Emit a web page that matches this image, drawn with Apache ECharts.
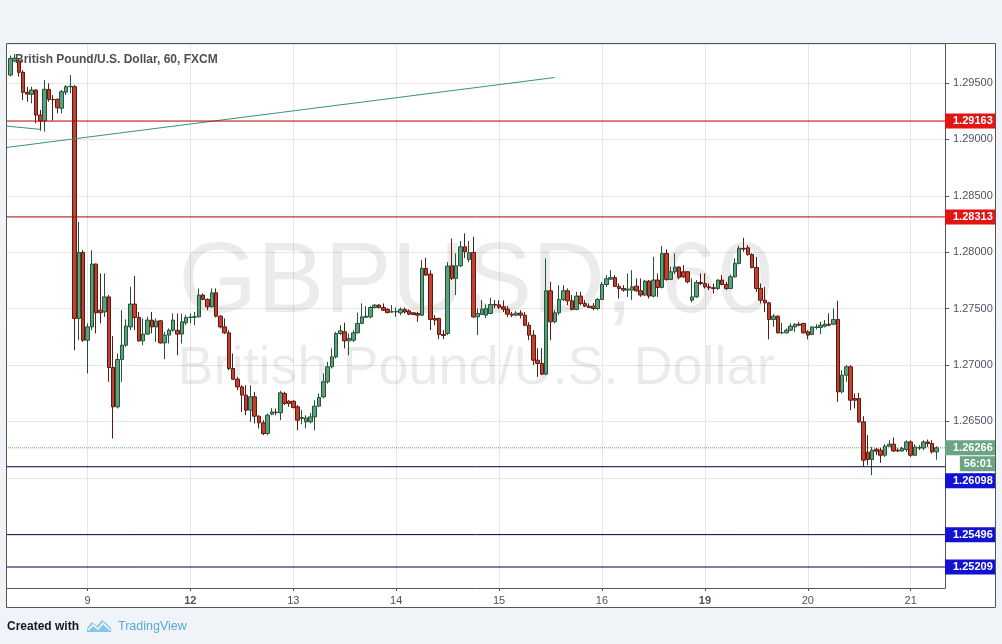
<!DOCTYPE html>
<html><head><meta charset="utf-8">
<script src="https://cdn.jsdelivr.net/npm/echarts@6/dist/echarts.min.js"></script>
<style>html,body{margin:0;padding:0;background:#f0f3f7}#c{width:1002px;height:644px}</style>
</head><body><div id="c"></div>
<script>
// Hourly GBPUSD candles, [open, close, low, high]
const d08 = [ // Thu 8, from 06:00
[1.29571,1.29719,1.29558,1.29744],[1.29695,1.29719,1.29686,1.29757],[1.29698,1.29595,1.29556,1.29722],
[1.29595,1.29418,1.29349,1.29615],[1.29418,1.29402,1.29334,1.29467],[1.29400,1.29438,1.29320,1.29467],
[1.29438,1.29216,1.29143,1.29447],[1.29216,1.29163,1.29077,1.29261],[1.29163,1.29444,1.29068,1.29527],
[1.29444,1.29355,1.29334,1.29497],[1.29355,1.29351,1.29166,1.29394],[1.29355,1.29281,1.29231,1.29364],
[1.29276,1.29423,1.29231,1.29438],[1.29418,1.29467,1.29394,1.29482],[1.29467,1.29471,1.29409,1.29571],
[1.29467,1.27413,1.27132,1.29482],[1.27413,1.27998,1.27220,1.28270],[1.27998,1.27220,1.27205,1.28019]];
const d09 = [ // Fri 9, 00:00-21:00
[1.27220,1.27338,1.26925,1.27369],[1.27338,1.27895,1.27309,1.28019],[1.27895,1.27463,1.27280,1.27901],
[1.27486,1.27463,1.27369,1.27812],[1.27471,1.27604,1.27427,1.27812],[1.27604,1.26978,1.26851,1.27620],
[1.26978,1.26629,1.26348,1.27256],[1.26629,1.27049,1.26615,1.27102],[1.27049,1.27176,1.26851,1.27486],
[1.27176,1.27345,1.27161,1.27404],[1.27338,1.27540,1.27309,1.27693],[1.27540,1.27422,1.27309,1.27788],
[1.27422,1.27214,1.27205,1.27471],[1.27214,1.27274,1.27176,1.27413],[1.27274,1.27398,1.27265,1.27427],
[1.27398,1.27338,1.27280,1.27471],[1.27338,1.27389,1.27205,1.27413],[1.27392,1.27196,1.27191,1.27398],
[1.27196,1.27265,1.27052,1.27294],[1.27265,1.27309,1.27191,1.27324],[1.27309,1.27398,1.27294,1.27457],
[1.27308,1.27274,1.27087,1.27457]];
const d11 = [ // Sun 11, 22:00-23:00
[1.27274,1.27383,1.27191,1.27457],[1.27374,1.27422,1.27353,1.27442]];
const d12 = [
[1.27422,1.27424,1.27369,1.27457],[1.27424,1.27427,1.27353,1.27471],[1.27427,1.27620,1.27422,1.27679],
[1.27620,1.27581,1.27575,1.27635],[1.27581,1.27516,1.27486,1.27590],[1.27516,1.27640,1.27510,1.27679],
[1.27640,1.27433,1.27422,1.27679],[1.27433,1.27338,1.27324,1.27442],[1.27338,1.27285,1.27274,1.27413],
[1.27285,1.26969,1.26954,1.27309],[1.26969,1.26874,1.26866,1.27102],[1.26874,1.26806,1.26777,1.26895],
[1.26806,1.26733,1.26584,1.26821],[1.26733,1.26600,1.26555,1.26821],[1.26600,1.26718,1.26496,1.26821],
[1.26718,1.26546,1.26482,1.26762],[1.26546,1.26487,1.26437,1.26555],[1.26487,1.26393,1.26378,1.26511],
[1.26393,1.26555,1.26378,1.26570],[1.26564,1.26584,1.26555,1.26617],[1.26582,1.26579,1.26555,1.26614],
[1.26576,1.26753,1.26511,1.26771],[1.26748,1.26659,1.26644,1.26762],[1.26679,1.26659,1.26629,1.26688]];
const d13 = [
[1.26679,1.26623,1.26615,1.26688],[1.26629,1.26511,1.26422,1.26644],[1.26526,1.26535,1.26475,1.26600],
[1.26496,1.26531,1.26437,1.26555],[1.26496,1.26540,1.26482,1.26576],[1.26540,1.26635,1.26422,1.26688],
[1.26635,1.26712,1.26629,1.26748],[1.26718,1.26851,1.26703,1.26925],[1.26851,1.26984,1.26836,1.27028],
[1.26984,1.27072,1.26969,1.27147],[1.27072,1.27280,1.27058,1.27294],[1.27280,1.27303,1.27265,1.27353],
[1.27294,1.27214,1.27147,1.27374],[1.27214,1.27235,1.27087,1.27280],[1.27220,1.27285,1.27205,1.27309],
[1.27285,1.27369,1.27280,1.27463],[1.27369,1.27427,1.27362,1.27546],[1.27422,1.27433,1.27419,1.27522],
[1.27427,1.27510,1.27413,1.27522],[1.27510,1.27531,1.27501,1.27540],[1.27531,1.27510,1.27501,1.27540],
[1.27510,1.27486,1.27480,1.27546],[1.27493,1.27466,1.27457,1.27504],[1.27471,1.27472,1.27463,1.27531]];
const d14 = [
[1.27472,1.27475,1.27427,1.27510],[1.27463,1.27493,1.27442,1.27510],[1.27493,1.27471,1.27457,1.27510],
[1.27480,1.27451,1.27442,1.27493],[1.27463,1.27448,1.27442,1.27471],[1.27457,1.27442,1.27383,1.27471],
[1.27442,1.27857,1.27436,1.27930],[1.27857,1.27797,1.27791,1.27950],[1.27806,1.27404,1.27309,1.27841],
[1.27413,1.27398,1.27353,1.27442],[1.27413,1.27271,1.27229,1.27419],[1.27271,1.27261,1.27229,1.27309],
[1.27280,1.27877,1.27265,1.27912],[1.27880,1.27768,1.27753,1.28122],[1.27768,1.27880,1.27620,1.27989],
[1.27880,1.28048,1.27868,1.28099],[1.28048,1.28004,1.27948,1.28167],[1.27936,1.27998,1.27912,1.28099],
[1.27998,1.27427,1.27416,1.28137],[1.27427,1.27457,1.27265,1.27501],[1.27448,1.27495,1.27442,1.27575],
[1.27442,1.27501,1.27416,1.27537],[1.27457,1.27537,1.27451,1.27596],[1.27537,1.27531,1.27504,1.27575]];
const d15 = [
[1.27534,1.27513,1.27495,1.27575],[1.27516,1.27495,1.27469,1.27572],[1.27495,1.27451,1.27424,1.27522],
[1.27451,1.27442,1.27424,1.27471],[1.27442,1.27460,1.27433,1.27478],[1.27460,1.27442,1.27413,1.27486],
[1.27442,1.27353,1.27344,1.27469],[1.27353,1.27265,1.27220,1.27380],[1.27265,1.27043,1.26999,1.27309],
[1.27043,1.27014,1.26895,1.27149],[1.27014,1.26919,1.26910,1.27149],[1.26919,1.27658,1.26910,1.27945],
[1.27658,1.27383,1.27220,1.27737],[1.27383,1.27463,1.27369,1.27486],[1.27463,1.27581,1.27442,1.27708],
[1.27581,1.27658,1.27566,1.27708],[1.27658,1.27569,1.27531,1.27679],[1.27569,1.27493,1.27486,1.27620],
[1.27493,1.27611,1.27486,1.27649],[1.27611,1.27546,1.27531,1.27649],[1.27546,1.27522,1.27513,1.27575],
[1.27522,1.27510,1.27504,1.27546],[1.27522,1.27501,1.27486,1.27549],[1.27501,1.27581,1.27486,1.27593]];
const d16 = [ // Fri 16, 00:00-21:00
[1.27581,1.27714,1.27575,1.27737],[1.27714,1.27764,1.27693,1.27797],[1.27761,1.27775,1.27753,1.27841],
[1.27775,1.27697,1.27693,1.27797],[1.27697,1.27679,1.27590,1.27723],[1.27679,1.27664,1.27649,1.27708],
[1.27664,1.27673,1.27604,1.27812],[1.27664,1.27693,1.27575,1.27841],[1.27699,1.27658,1.27649,1.27768],
[1.27658,1.27620,1.27604,1.27768],[1.27620,1.27744,1.27611,1.27753],[1.27744,1.27611,1.27590,1.27753],
[1.27611,1.27753,1.27599,1.27959],[1.27753,1.27688,1.27604,1.27812],[1.27688,1.27989,1.27679,1.28057],
[1.27989,1.27759,1.27747,1.28025],[1.27759,1.27826,1.27753,1.27871],[1.27826,1.27868,1.27806,1.27989],
[1.27868,1.27777,1.27759,1.27877],[1.27826,1.27782,1.27771,1.27886],[1.27826,1.27738,1.27723,1.27833],
[1.27575,1.27604,1.27555,1.27768]];
const d18 = [ // Sun 18, 22:00-23:00
[1.27604,1.27732,1.27596,1.27753],[1.27732,1.27723,1.27708,1.27812]];
const d19 = [
[1.27723,1.27693,1.27679,1.27812],[1.27693,1.27685,1.27664,1.27723],[1.27685,1.27679,1.27635,1.27723],
[1.27679,1.27753,1.27664,1.27759],[1.27753,1.27714,1.27708,1.27797],[1.27714,1.27679,1.27664,1.27737],
[1.27679,1.27782,1.27673,1.27803],[1.27782,1.27901,1.27773,1.27945],[1.27901,1.28034,1.27892,1.28057],
[1.28034,1.28028,1.28004,1.28128],[1.28039,1.27981,1.27968,1.28063],[1.27981,1.27864,1.27857,1.27990],
[1.27864,1.27679,1.27649,1.27959],[1.27679,1.27575,1.27546,1.27723],[1.27575,1.27551,1.27471,1.27693],
[1.27551,1.27404,1.27227,1.27560],[1.27404,1.27433,1.27338,1.27451],[1.27433,1.27285,1.27280,1.27442],
[1.27285,1.27287,1.27274,1.27374],[1.27285,1.27309,1.27280,1.27324],[1.27309,1.27345,1.27300,1.27369],
[1.27338,1.27362,1.27294,1.27369],[1.27362,1.27353,1.27344,1.27380],[1.27369,1.27285,1.27280,1.27374]];
const d20 = [
[1.27294,1.27265,1.27227,1.27309],[1.27271,1.27338,1.27265,1.27344],[1.27333,1.27336,1.27315,1.27362],
[1.27333,1.27353,1.27274,1.27383],[1.27344,1.27362,1.27333,1.27398],[1.27362,1.27353,1.27344,1.27457],
[1.27362,1.27404,1.27353,1.27501],[1.27404,1.26762,1.26673,1.27569],[1.26762,1.26910,1.26748,1.26954],
[1.26910,1.26984,1.26851,1.26999],[1.26984,1.26688,1.26600,1.26999],[1.26703,1.26688,1.26615,1.26748],
[1.26703,1.26496,1.26487,1.26753],[1.26496,1.26156,1.26103,1.26546],[1.26227,1.26162,1.26112,1.26378],
[1.26162,1.26245,1.26023,1.26274],[1.26254,1.26236,1.26200,1.26262],[1.26245,1.26200,1.26132,1.26265],
[1.26200,1.26280,1.26185,1.26298],[1.26280,1.26298,1.26274,1.26333],[1.26298,1.26238,1.26230,1.26357],
[1.26245,1.26238,1.26227,1.26262],[1.26238,1.26260,1.26230,1.26274],[1.26251,1.26318,1.26230,1.26333]];
const d21 = [ // Wed 21, 00:00-06:00
[1.26318,1.26200,1.26185,1.26333],[1.26200,1.26274,1.26191,1.26298],[1.26265,1.26267,1.26245,1.26289],
[1.26265,1.26318,1.26245,1.26333],[1.26318,1.26304,1.26274,1.26339],[1.26304,1.26230,1.26215,1.26333],
[1.26230,1.26266,1.26160,1.26280]];

// sessions: [day, first hour, candles]
const sessions = [[8,6,d08],[9,0,d09],[11,22,d11],[12,0,d12],[13,0,d13],[14,0,d14],[15,0,d15],
                  [16,0,d16],[18,22,d18],[19,0,d19],[20,0,d20],[21,0,d21]];
const boldDays = ['12','19'];

const resistance = [1.29163, 1.28313];
const support = [1.26098, 1.25496, 1.25209];
const lastPrice = 1.26266;
const countdown = '56:01';
const trendA = [[0, 1.28928], [128, 1.29549]];
const trendB = [[0, 1.29119], [8, 1.29089]];
const yMin = 1.25023, yMax = 1.29846;

const categories = ['8 05'];
const ohlc = [['-','-','-','-']];
sessions.forEach(([day, h0, arr]) => arr.forEach((v, i) => {
  categories.push(day + ' ' + String(h0 + i).padStart(2, '0'));
  ohlc.push(v);
}));
categories.push('21 07', '21 08');
ohlc.push(['-','-','-','-'], ['-','-','-','-']);
const lastIdx = categories.length - 1;

const isMidnight = (i, v) => String(v).endsWith(' 00');
const FONT = '"Liberation Sans", Arial, sans-serif';
const UP = '#5fa07c', DOWN = '#c2402f', LAST = '#6ba583';
const RED_LINE = '#b80000', NAVY_LINE = '#000048', TEAL = '#3a9082';

const lineSeries = (data, color, type, z) => ({
  type: 'line', data: data, symbol: 'none', silent: true, z: z || 3, color: color,
  lineStyle: { color: color, width: 1, type: type || 'solid' }, emphasis: { disabled: true }
});
const level = v => [[0, v], [lastIdx, v]];

const option = {
  animation: false,
  backgroundColor: '#ffffff',
  grid: { left: 6, right: 57, top: 44, bottom: 56, containLabel: false },
  xAxis: {
    type: 'category', data: categories, boundaryGap: false,
    axisLine: { show: true, lineStyle: { color: '#555' } },
    axisTick: { show: true, interval: isMidnight, length: 3, lineStyle: { color: '#555' } },
    axisLabel: {
      interval: isMidnight, color: '#4c525e', fontSize: 11, margin: 7, fontFamily: FONT,
      formatter: v => { const d = v.split(' ')[0]; return boldDays.includes(d) ? '{b|' + d + '}' : d; },
      rich: { b: { fontWeight: 'bold', fontSize: 11, color: '#4c525e', fontFamily: FONT } }
    },
    splitLine: { show: true, interval: isMidnight, lineStyle: { color: '#e6e6e6' } }
  },
  yAxis: {
    type: 'value', position: 'right', min: yMin, max: yMax, scale: true,
    splitNumber: 10, minInterval: 0.005, maxInterval: 0.005,
    axisLine: { show: true, lineStyle: { color: '#555' } },
    axisTick: { show: true, length: 4, lineStyle: { color: '#555' } },
    axisLabel: { showMinLabel: false, showMaxLabel: false, color: '#4c525e', fontSize: 11, margin: 8,
                 fontFamily: FONT, formatter: v => v.toFixed(5) },
    splitLine: { show: true, lineStyle: { color: '#e6e6e6' } }
  },
  series: [
    {
      type: 'candlestick', data: ohlc, barWidth: 4, silent: true, z: 2,
      itemStyle: { color: UP, color0: DOWN, borderColor: '#225437', borderColor0: '#5e1a12', borderWidth: 1 }
    },
    lineSeries(trendA, TEAL),
    lineSeries(trendB, TEAL),
    ...resistance.map(v => lineSeries(level(v), RED_LINE)),
    ...support.map(v => lineSeries(level(v), NAVY_LINE)),
    lineSeries(level(lastPrice), LAST, 'dotted', 1)
  ]
};

const chart = echarts.init(document.getElementById('c'), null, { renderer: 'canvas' });
chart.setOption(option);

const py = v => chart.convertToPixel({ yAxisIndex: 0 }, v);
const box = (text, y, bg) => ({
  type: 'text', x: 945, y: y, z: 20,
  style: { text: text, fill: '#fff', font: 'bold 11px ' + FONT, backgroundColor: bg,
           padding: [2, 3, 2, 8], align: 'left', verticalAlign: 'middle' }
});

const gray = '#f0f3f7';
const graphics = [
  { type: 'rect', z: 1, shape: { x: 0, y: 0, width: 1002, height: 44 }, style: { fill: gray } },
  { type: 'rect', z: 1, shape: { x: 0, y: 607, width: 1002, height: 37 }, style: { fill: gray } },
  { type: 'rect', z: 1, shape: { x: 0, y: 0, width: 6, height: 644 }, style: { fill: gray } },
  { type: 'rect', z: 1, shape: { x: 996, y: 0, width: 6, height: 644 }, style: { fill: gray } },
  { type: 'rect', z: 21, shape: { x: 6.5, y: 43.5, width: 989, height: 564 }, style: { fill: null, stroke: '#555', lineWidth: 1 } },
  { type: 'text', x: 476, y: 284, z: 0, style: { text: 'GBPUSD, 60', font: '101px ' + FONT, fill: 'rgba(0,0,0,0.08)', align: 'center', verticalAlign: 'middle' } },
  { type: 'text', x: 476, y: 369, z: 0, style: { text: 'British Pound/U.S. Dollar', font: '54px ' + FONT, fill: 'rgba(0,0,0,0.08)', align: 'center', verticalAlign: 'middle' } },
  { type: 'text', x: 15, y: 60, z: 0, style: { text: 'British Pound/U.S. Dollar, 60, FXCM', font: 'bold 12px ' + FONT, fill: '#4d4f55', align: 'left', verticalAlign: 'middle' } },
  box(resistance[0].toFixed(5), py(resistance[0]), '#e31414'),
  box(resistance[1].toFixed(5), py(resistance[1]), '#e31414'),
  box(lastPrice.toFixed(5), py(lastPrice), LAST),
  { type: 'text', x: 995, y: py(lastPrice) + 16, z: 20,
    style: { text: countdown, fill: '#fff', font: 'bold 11px ' + FONT, backgroundColor: LAST, padding: [2, 3, 2, 4], align: 'right', verticalAlign: 'middle' } },
  box(support[0].toFixed(5), py(support[0]) + 14, '#1212d4'),
  box(support[1].toFixed(5), py(support[1]), '#1212d4'),
  box(support[2].toFixed(5), py(support[2]), '#1212d4'),
  { type: 'text', x: 7, y: 627, z: 2, style: { text: 'Created with', font: 'bold 12px ' + FONT, fill: '#131722', align: 'left', verticalAlign: 'middle' } },
  { type: 'polygon', z: 2, shape: { points: [[87,632],[87,628],[92,622],[97,626],[102,620],[107,624],[111,628],[111,632]] }, style: { fill: '#86c6e8' } },
  { type: 'polyline', z: 3, shape: { points: [[88,630],[93,625],[98,629],[103,623],[110,630]] }, style: { stroke: '#ffffff', lineWidth: 1.5, fill: null } },
  { type: 'text', x: 118, y: 627, z: 2, style: { text: 'TradingView', font: '12.5px ' + FONT, fill: '#5aa8d6', align: 'left', verticalAlign: 'middle' } }
];
chart.setOption({ graphic: graphics });
</script></body></html>
